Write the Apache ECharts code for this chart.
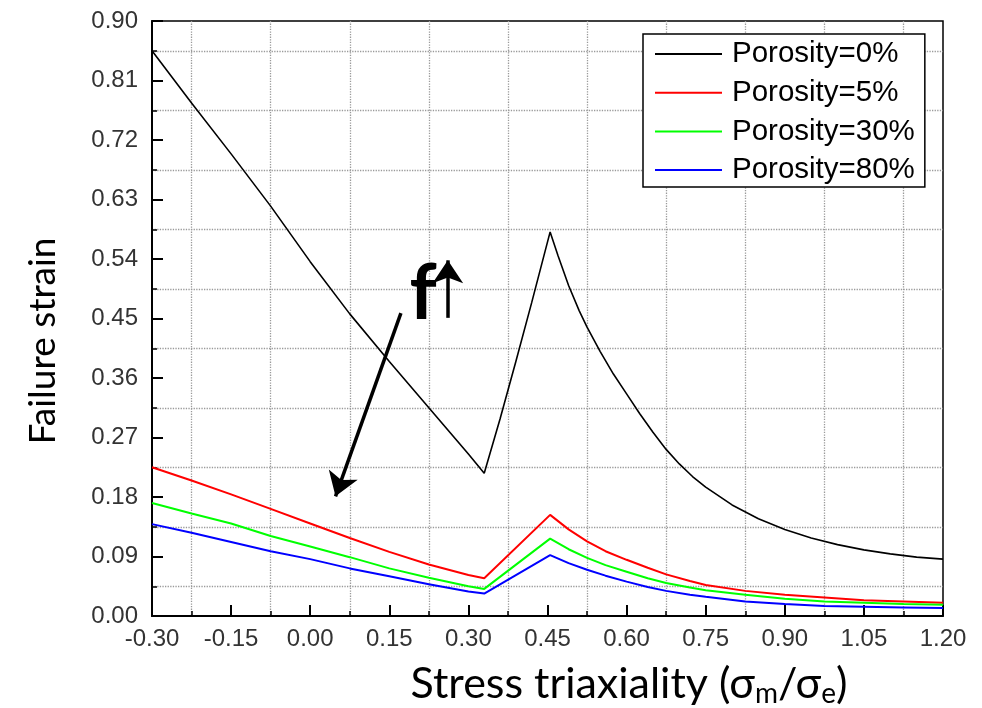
<!DOCTYPE html>
<html>
<head>
<meta charset="utf-8">
<script src="https://cdn.jsdelivr.net/npm/echarts@6/dist/echarts.min.js"></script>
<style>html,body{margin:0;padding:0;background:#fff;}#c{width:982px;height:708px;}</style>
</head>
<body>
<div id="c"></div>
<script>
const seriesNames = ['Porosity=0%', 'Porosity=5%', 'Porosity=30%', 'Porosity=80%'];
const xBlack = [-0.30,-0.225,-0.15,-0.075,0,0.075,0.15,0.225,0.30,0.33,0.36,0.39,0.42,0.455,0.47,0.49,0.51,0.525,0.55,0.575,0.60,0.625,0.65,0.675,0.70,0.725,0.75,0.80,0.85,0.90,0.95,1.00,1.05,1.10,1.15,1.20];
const yBlack = [0.855,0.776,0.699,0.620,0.536,0.457,0.385,0.315,0.245,0.216,0.298,0.385,0.474,0.581,0.545,0.500,0.462,0.437,0.400,0.366,0.336,0.306,0.278,0.252,0.230,0.211,0.195,0.168,0.147,0.131,0.118,0.108,0.100,0.094,0.089,0.086];
const xPor = [-0.30,-0.225,-0.15,-0.075,0,0.075,0.15,0.225,0.30,0.33,0.455,0.49,0.525,0.56,0.60,0.64,0.675,0.72,0.75,0.825,0.90,0.975,1.05,1.125,1.20];
const yRed   = [0.225,0.205,0.184,0.162,0.140,0.118,0.097,0.078,0.062,0.057,0.153,0.131,0.113,0.098,0.085,0.073,0.063,0.053,0.047,0.038,0.032,0.028,0.024,0.022,0.020];
const yGreen = [0.171,0.155,0.140,0.121,0.105,0.089,0.072,0.058,0.045,0.041,0.117,0.101,0.088,0.077,0.067,0.057,0.050,0.043,0.039,0.032,0.026,0.022,0.020,0.018,0.017];
const yBlue  = [0.139,0.126,0.112,0.098,0.086,0.072,0.060,0.048,0.037,0.034,0.092,0.080,0.070,0.061,0.052,0.044,0.038,0.032,0.029,0.022,0.018,0.015,0.014,0.013,0.012];
const colors = ['#000000', '#ff0000', '#00ff00', '#0000ff'];
const xTitle = 'Stress triaxiality';
const yTitle = 'Failure strain';
// annotation (data coordinates)
const arrowDown = [[0.172, 0.458], [0.048, 0.181]];
const arrowUp = [[0.261, 0.451], [0.261, 0.538]];
const fLabel = [0.214, 0.487];

function zip(xs, ys) { return xs.map((x, i) => [x, ys[i]]); }

const chart = echarts.init(document.getElementById('c'), null, {renderer: 'canvas'});
const tickFont = {fontFamily: 'Liberation Sans', fontSize: 24, color: '#333'};
const gridLine = {show: true, lineStyle: {color: '#9a9a9a', type: 'dotted', width: 1.3}};
const option = {
  animation: false,
  grid: {left: 152, right: 39, top: 21, bottom: 92, show: true, borderColor: '#000', borderWidth: 1.5, backgroundColor: 'transparent'},
  xAxis: {
    type: 'value', min: -0.30, max: 1.20, interval: 0.15,
    axisLine: {show: true, onZero: false, lineStyle: {color: '#000', width: 2}},
    axisTick: {show: true, inside: true, length: 11, lineStyle: {color: '#000', width: 2}},
    minorTick: {show: true, splitNumber: 2, length: 5, lineStyle: {color: '#000', width: 1.5}},
    splitLine: {show: false},
    minorSplitLine: gridLine,
    axisLabel: Object.assign({margin: 11, formatter: v => v.toFixed(2)}, tickFont)
  },
  yAxis: {
    type: 'value', min: 0, max: 0.90, interval: 0.09,
    axisLine: {show: true, onZero: false, lineStyle: {color: '#000', width: 2}},
    axisTick: {show: true, inside: true, length: 11, lineStyle: {color: '#000', width: 2}},
    minorTick: {show: true, splitNumber: 2, length: 5, lineStyle: {color: '#000', width: 1.5}},
    splitLine: {show: false},
    minorSplitLine: gridLine,
    axisLabel: Object.assign({margin: 14, formatter: v => v.toFixed(2)}, tickFont)
  },
  legend: {
    orient: 'vertical', left: 643, top: 34,
    data: seriesNames,
    icon: 'rect', itemWidth: 67, itemHeight: 2, itemGap: 8.7,
    backgroundColor: '#fff', borderColor: '#000', borderWidth: 1.5,
    padding: [5, 10, 2, 12],
    textStyle: {fontFamily: 'Liberation Sans', fontSize: 29.5, lineHeight: 30, color: '#000', padding: [0, 0, 0, 5]}
  },
  graphic: [
    {type: 'text', x: 43, y: 341, rotation: Math.PI / 2,
     style: {text: yTitle, font: '37px Lato', fill: '#000', textAlign: 'center', textVerticalAlign: 'middle'}},
    {type: 'text', x: 629, y: 684,
     style: {
       text: '{t|' + xTitle + ' (σ}{s|m}{t|/σ}{s|e}{t|)}',
       textAlign: 'center', textVerticalAlign: 'middle',
       rich: {
         t: {fontFamily: 'Lato', fontSize: 43, fill: '#000', color: '#000'},
         s: {fontFamily: 'Lato', fontSize: 28, fill: '#000', color: '#000', padding: [19, 0, 0, 0]}
       }
     }}
  ],
  series: [
    {name: seriesNames[0], type: 'line', data: zip(xBlack, yBlack), showSymbol: false, symbol: 'none',
     lineStyle: {color: colors[0], width: 1.6}, itemStyle: {color: colors[0]}, z: 5,
     markLine: {
       silent: true, symbol: ['none', 'arrow'], symbolSize: [23, 23],
       label: {show: false},
       lineStyle: {color: '#000', width: 3.5, type: 'solid'},
       data: [
         [{coord: arrowDown[0]}, {coord: arrowDown[1]}],
         [{coord: arrowUp[0]}, {coord: arrowUp[1]}]
       ]
     },
     markPoint: {
       silent: true, symbol: 'circle', symbolSize: 0,
       label: {show: true, position: 'inside', formatter: 'f', fontFamily: 'Lato', fontWeight: 'bold', fontSize: 76, color: '#000'},
       data: [{coord: fLabel}]
     }},
    {name: seriesNames[1], type: 'line', data: zip(xPor, yRed), showSymbol: false, symbol: 'none',
     lineStyle: {color: colors[1], width: 2}, itemStyle: {color: colors[1]}},
    {name: seriesNames[2], type: 'line', data: zip(xPor, yGreen), showSymbol: false, symbol: 'none',
     lineStyle: {color: colors[2], width: 2}, itemStyle: {color: colors[2]}},
    {name: seriesNames[3], type: 'line', data: zip(xPor, yBlue), showSymbol: false, symbol: 'none',
     lineStyle: {color: colors[3], width: 2}, itemStyle: {color: colors[3]}}
  ]
};
chart.setOption(option);
</script>
</body>
</html>
